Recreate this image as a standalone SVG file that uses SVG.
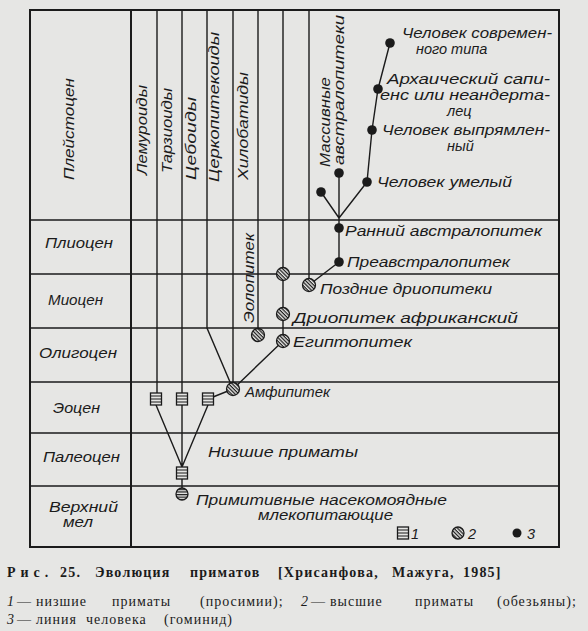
<svg xmlns="http://www.w3.org/2000/svg" xmlns:xlink="http://www.w3.org/1999/xlink" width="588" height="631" viewBox="0 0 588 631">
<style>
.frame{fill:none;stroke:#1b1b1b;stroke-width:2}
.grid{stroke:#1b1b1b;stroke-width:1.3;fill:none}
.conn{stroke:#1b1b1b;stroke-width:1.4;fill:none}
.lbl{font-family:"Liberation Sans","DejaVu Sans",sans-serif;font-style:italic;font-size:14.5px;fill:#1b1b1b}
.ep{font-family:"Liberation Sans","DejaVu Sans",sans-serif;font-style:italic;font-size:14.5px;fill:#1b1b1b}
.cap1{font-family:"Liberation Serif","DejaVu Serif",serif;font-weight:bold;font-size:14px;letter-spacing:1.2px;fill:#1b1b1b}
.cap{font-family:"Liberation Serif","DejaVu Serif",serif;font-size:14px;letter-spacing:1px;fill:#1b1b1b}
.it{font-style:italic}
.c2{fill:url(#hatch);stroke:#1b1b1b;stroke-width:1.3}
.c0{fill:url(#hstripe);stroke:#1b1b1b;stroke-width:1.3}
.c3{fill:#1b1b1b}
</style>
<defs>
<pattern id="hatch" width="2.6" height="2.6" patternUnits="userSpaceOnUse" patternTransform="rotate(45)">
<rect width="2.6" height="2.6" fill="#e6e6e4"/>
<line x1="0" y1="0.6" x2="2.6" y2="0.6" stroke="#1b1b1b" stroke-width="1.2"/>
</pattern>
<pattern id="hstripe" width="4" height="2.6" patternUnits="userSpaceOnUse">
<rect width="4" height="2.6" fill="#e6e6e4"/>
<line x1="0" y1="0.6" x2="4" y2="0.6" stroke="#1b1b1b" stroke-width="1.2"/>
</pattern>
<g id="sq">
<rect x="-5.5" y="-6" width="11" height="12" fill="#e6e6e4" stroke="#1b1b1b" stroke-width="1.3"/>
<path d="M-5.5,-3H5.5M-5.5,0H5.5M-5.5,3H5.5" stroke="#1b1b1b" stroke-width="1.1"/>
</g>
</defs>
<rect width="588" height="631" fill="#e6e6e4"/>

<g id="grid">
<rect class="frame" x="30" y="10" width="529" height="537"/>
<line class="frame" x1="131" y1="10" x2="131" y2="547"/>
<path class="grid" d="M30,220H559M30,274H559M30,328H559M30,382H559M30,433H559M30,486H559"/>
</g>

<g id="epochs">
<text class="ep" transform="translate(74,180) rotate(-90)" textLength="102" lengthAdjust="spacingAndGlyphs">Плейстоцен</text>
<text class="ep" x="45" y="248" textLength="68" lengthAdjust="spacingAndGlyphs">Плиоцен</text>
<text class="ep" x="48" y="305" textLength="55" lengthAdjust="spacingAndGlyphs">Миоцен</text>
<text class="ep" x="39" y="358" textLength="78" lengthAdjust="spacingAndGlyphs">Олигоцен</text>
<text class="ep" x="53" y="413" textLength="47" lengthAdjust="spacingAndGlyphs">Эоцен</text>
<text class="ep" x="43" y="462" textLength="77" lengthAdjust="spacingAndGlyphs">Палеоцен</text>
<text class="ep" x="49" y="512" textLength="69" lengthAdjust="spacingAndGlyphs">Верхний</text>
<text class="ep" x="63" y="527" textLength="30" lengthAdjust="spacingAndGlyphs">мел</text>
</g>

<g id="connectors">
<path class="conn" d="M157,10V393"/>
<path class="conn" d="M182,10V393"/>
<path class="conn" d="M207,10V328L233,389"/>
<path class="conn" d="M233,10V389"/>
<path class="conn" d="M258,10V335"/>
<path class="conn" d="M283,10V341L233,389"/>
<path class="conn" d="M309,10V285"/>
<path class="conn" d="M208,399L233,389"/>
<path class="conn" d="M156,405L182,467M182,405V467M208,405L182,467"/>
<path class="conn" d="M182,473V494"/>
<path class="conn" d="M339,262L309,285"/>
<path class="conn" d="M339,262V218"/>
<path class="conn" d="M339,218V173M339,218L321,192M339,218L367,182"/>
<path class="conn" d="M367,182L372,130L378,89L390,43"/>
</g>

<g id="lemuroidea"><text class="lbl" transform="translate(147,175) rotate(-90)" textLength="90" lengthAdjust="spacingAndGlyphs">Лемуроиды</text></g>
<g id="tarsioidea"><text class="lbl" transform="translate(172,173) rotate(-90)" textLength="85" lengthAdjust="spacingAndGlyphs">Тарзиоиды</text></g>
<g id="ceboidea"><text class="lbl" transform="translate(196,180) rotate(-90)" textLength="83" lengthAdjust="spacingAndGlyphs">Цебоиды</text></g>
<g id="cercopithecoidea"><text class="lbl" transform="translate(219,182) rotate(-90)" textLength="150" lengthAdjust="spacingAndGlyphs">Церкопитекоиды</text></g>
<g id="hylobatidae"><text class="lbl" transform="translate(248,180) rotate(-90)" textLength="108" lengthAdjust="spacingAndGlyphs">Хилобатиды</text></g>
<g id="robust-australopithecines">
<text class="lbl" transform="translate(330,167) rotate(-90)" textLength="90" lengthAdjust="spacingAndGlyphs">Массивные</text>
<text class="lbl" transform="translate(344,165) rotate(-90)" textLength="150" lengthAdjust="spacingAndGlyphs">австралопитеки</text>
<circle class="c3" cx="339" cy="173" r="4.8"/>
</g>
<g id="hominid-side"><circle class="c3" cx="321" cy="192" r="4.8"/></g>

<g id="modern-human"><circle class="c3" cx="390" cy="43" r="4.8"/>
<text class="lbl" x="402" y="38" textLength="150" lengthAdjust="spacingAndGlyphs">Человек современ-</text>
<text class="lbl" x="416" y="54">ного типа</text></g>
<g id="archaic-sapiens"><circle class="c3" cx="378" cy="89" r="4.8"/>
<text class="lbl" x="387" y="84" textLength="163" lengthAdjust="spacingAndGlyphs">Архаический сапи-</text>
<text class="lbl" x="380" y="100" textLength="170" lengthAdjust="spacingAndGlyphs">енс или неандерта-</text>
<text class="lbl" x="447" y="116">лец</text></g>
<g id="homo-erectus"><circle class="c3" cx="372" cy="130" r="4.8"/>
<text class="lbl" x="382" y="135" textLength="168" lengthAdjust="spacingAndGlyphs">Человек выпрямлен-</text>
<text class="lbl" x="447" y="151">ный</text></g>
<g id="homo-habilis"><circle class="c3" cx="367" cy="182" r="4.8"/>
<text class="lbl" x="377" y="187" textLength="135" lengthAdjust="spacingAndGlyphs">Человек умелый</text></g>
<g id="early-australopithecus"><circle class="c3" cx="339" cy="228" r="4.8"/>
<text class="lbl" x="345" y="236" textLength="197" lengthAdjust="spacingAndGlyphs">Ранний австралопитек</text></g>
<g id="preaustralopithecus"><circle class="c3" cx="339" cy="262" r="4.8"/>
<text class="lbl" x="347" y="267" textLength="163" lengthAdjust="spacingAndGlyphs">Преавстралопитек</text></g>
<g id="late-dryopithecines"><circle class="c2" cx="309" cy="285" r="6.5"/>
<text class="lbl" x="320" y="294" textLength="172" lengthAdjust="spacingAndGlyphs">Поздние дриопитеки</text></g>
<g id="miocene-ape"><circle class="c2" cx="283" cy="274" r="6.5"/></g>
<g id="dryopithecus-africanus"><circle class="c2" cx="283" cy="314" r="6.5"/>
<text class="lbl" x="293" y="323" textLength="225" lengthAdjust="spacingAndGlyphs">Дриопитек африканский</text></g>
<g id="aegyptopithecus"><circle class="c2" cx="283" cy="341" r="6.5"/>
<text class="lbl" x="293" y="347" textLength="119" lengthAdjust="spacingAndGlyphs">Египтопитек</text></g>
<g id="aeolopithecus"><circle class="c2" cx="258" cy="335" r="6.5"/>
<text class="lbl" transform="translate(254,323) rotate(-90)" textLength="90" lengthAdjust="spacingAndGlyphs">Эолопитек</text></g>
<g id="amphipithecus"><circle class="c2" cx="233" cy="389" r="6.5"/>
<text class="lbl" x="245" y="397" textLength="85" lengthAdjust="spacingAndGlyphs">Амфипитек</text></g>
<g id="eocene-lemur"><use xlink:href="#sq" href="#sq" x="156" y="399"/></g>
<g id="eocene-tarsier"><use xlink:href="#sq" href="#sq" x="182" y="399"/></g>
<g id="eocene-prosimian"><use xlink:href="#sq" href="#sq" x="208" y="399"/></g>
<g id="lower-primates"><use xlink:href="#sq" href="#sq" x="182" y="473"/>
<text class="lbl" x="208" y="457" textLength="150" lengthAdjust="spacingAndGlyphs">Низшие приматы</text></g>
<g id="insectivores"><circle class="c0" cx="182" cy="494" r="6"/>
<text class="lbl" x="196" y="505" textLength="251" lengthAdjust="spacingAndGlyphs">Примитивные насекомоядные</text>
<text class="lbl" x="258" y="520" textLength="135" lengthAdjust="spacingAndGlyphs">млекопитающие</text></g>

<g id="legend">
<use xlink:href="#sq" href="#sq" x="403" y="533"/>
<text class="lbl" x="411" y="539">1</text>
<circle class="c2" cx="458" cy="533" r="6"/>
<text class="lbl" x="468" y="539">2</text>
<circle class="c3" cx="517" cy="533" r="4.5"/>
<text class="lbl" x="527" y="539">3</text>
</g>

<g id="caption">
<text class="cap1" y="577"><tspan x="7" letter-spacing="5">Рис.</tspan><tspan x="60">25.</tspan><tspan x="95">Эволюция</tspan><tspan x="190">приматов</tspan><tspan x="278">[Хрисанфова,</tspan><tspan x="392">Мажуга,</tspan><tspan x="463">1985]</tspan></text>
<text class="cap" y="606"><tspan x="7" class="it">1</tspan><tspan x="17">—</tspan><tspan x="36">низшие</tspan><tspan x="112">приматы</tspan><tspan x="200">(просимии);</tspan><tspan x="301" class="it">2</tspan><tspan x="311">—</tspan><tspan x="330">высшие</tspan><tspan x="415">приматы</tspan><tspan x="497">(обезьяны);</tspan></text>
<text class="cap" y="624"><tspan x="7" class="it">3</tspan><tspan x="17">—</tspan><tspan x="36">линия</tspan><tspan x="86">человека</tspan><tspan x="164">(гоминид)</tspan></text>
</g>
</svg>
